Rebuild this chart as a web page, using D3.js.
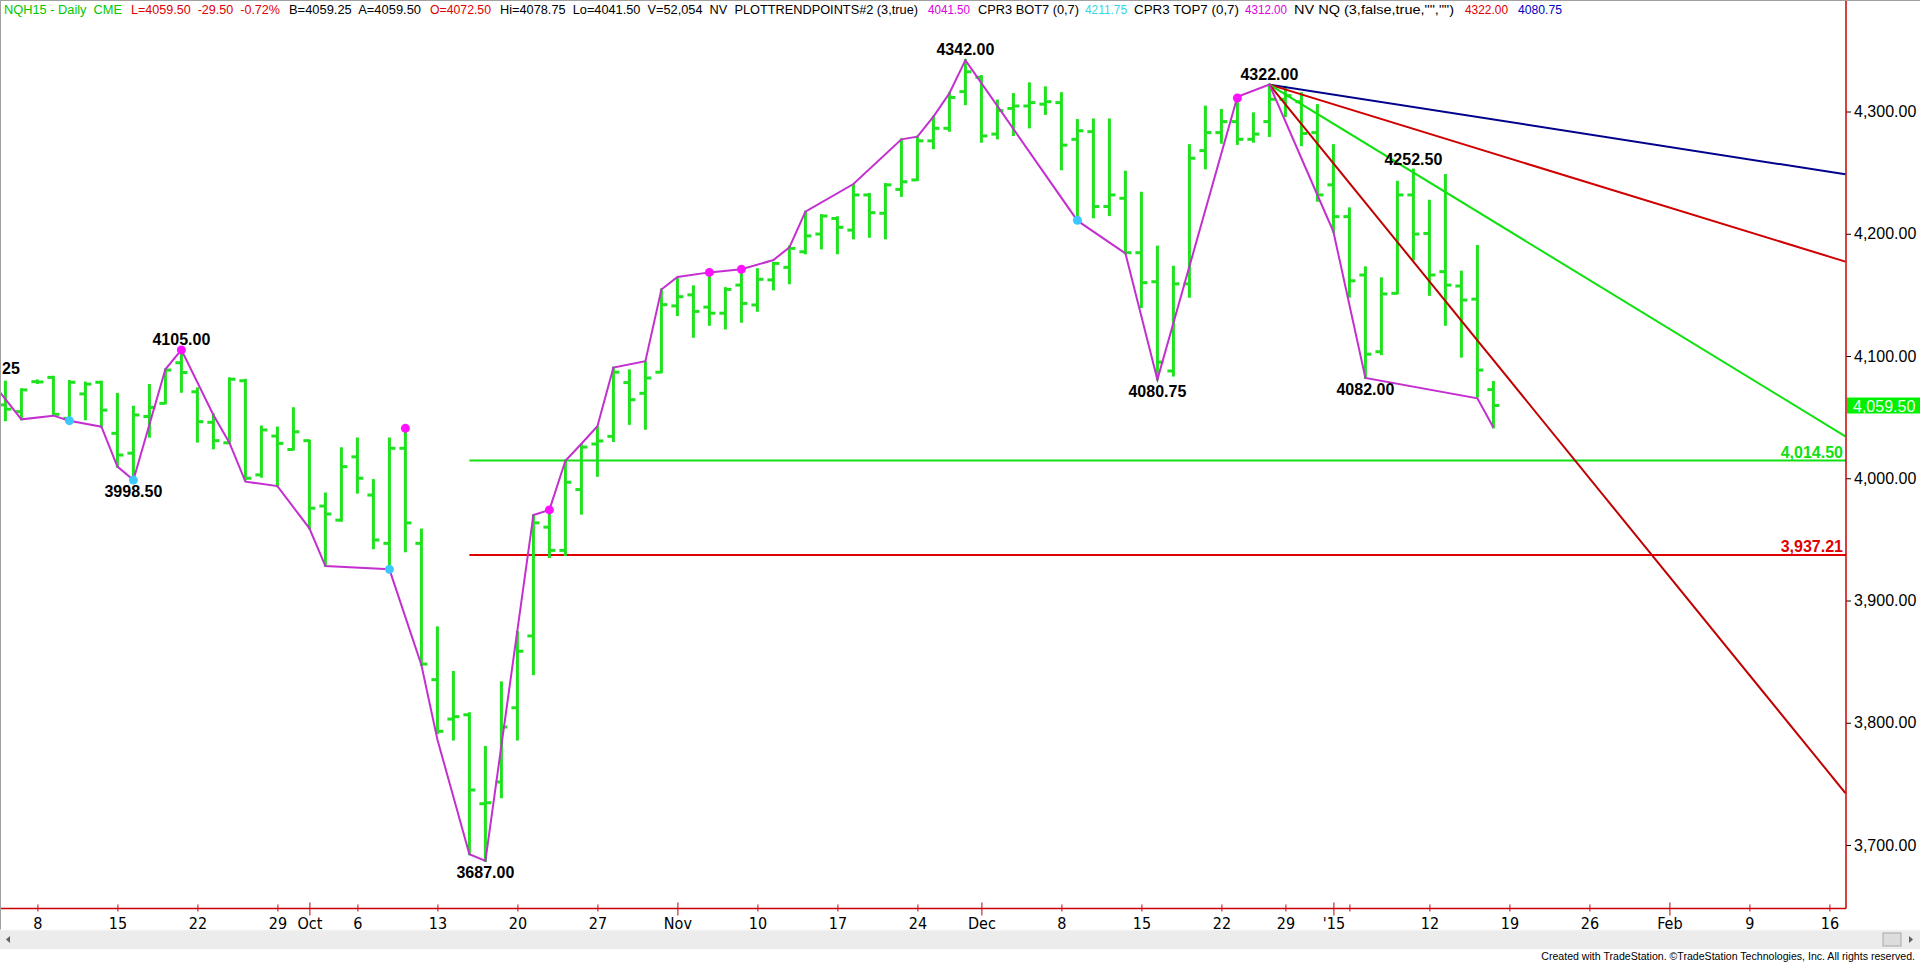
<!DOCTYPE html>
<html><head><meta charset="utf-8">
<script src="https://cdn.jsdelivr.net/npm/d3@7"></script>
<style>body{margin:0;background:#fff;overflow:hidden}svg{display:block}</style>
</head><body><svg id="c" width="1920" height="964"></svg>
<script>
// ---------- DATA ----------
const dates = ["2014-09-04","2014-09-05","2014-09-08","2014-09-09","2014-09-10","2014-09-11","2014-09-12","2014-09-15","2014-09-16","2014-09-17","2014-09-18","2014-09-19","2014-09-22","2014-09-23","2014-09-24","2014-09-25","2014-09-26","2014-09-29","2014-09-30",
"2014-10-01","2014-10-02","2014-10-03","2014-10-06","2014-10-07","2014-10-08","2014-10-09","2014-10-10","2014-10-13","2014-10-14","2014-10-15","2014-10-16","2014-10-17","2014-10-20","2014-10-21","2014-10-22","2014-10-23","2014-10-24","2014-10-27","2014-10-28","2014-10-29","2014-10-30","2014-10-31",
"2014-11-03","2014-11-04","2014-11-05","2014-11-06","2014-11-07","2014-11-10","2014-11-11","2014-11-12","2014-11-13","2014-11-14","2014-11-17","2014-11-18","2014-11-19","2014-11-20","2014-11-21","2014-11-24","2014-11-25","2014-11-26","2014-11-28",
"2014-12-01","2014-12-02","2014-12-03","2014-12-04","2014-12-05","2014-12-08","2014-12-09","2014-12-10","2014-12-11","2014-12-12","2014-12-15","2014-12-16","2014-12-17","2014-12-18","2014-12-19","2014-12-22","2014-12-23","2014-12-24","2014-12-26","2014-12-29","2014-12-30","2014-12-31",
"2015-01-02","2015-01-05","2015-01-06","2015-01-07","2015-01-08","2015-01-09","2015-01-12","2015-01-13","2015-01-14","2015-01-15","2015-01-16"];
const opens  = [4060,4054.5,4079,4082.5,4049,4069,4078.5,4036.75,4020.5,4050.5,4061.25,4094.5,4070.75,4045.75,4029,4079.75,4002.75,4034.5,4023.5,
4030.75,3977.25,3965.75,4017.5,3986.25,3946.75,4024.5,3946.75,3835.25,3803,3806.5,3733.75,3751.5,3812.25,3871,3960,3941,3990.75,4028,4034.25,4078.25,4069.5,4086.75,
4141,4150,4140,4135,4158,4141.75,4162.25,4172.5,4185.25,4199.75,4212.5,4203,4231.75,4216.75,4236.25,4244,4276,4286.25,4316.25,
4328,4281.5,4302.5,4304.5,4306,4307.25,4277.25,4283.5,4222.25,4229,4184.5,4160.75,4087.75,4159,4268,4282.75,4291.75,4277.25,4291.75,4310,4308,4282.75,
4240,4214,4166.25,4103.5,4151.25,4231.75,4200.25,4169,4157.25,4146.5,4072.5];
const highs  = [4079,4072.75,4080,4083,4079.5,4078.25,4079,4069,4058.5,4076.25,4089,4105,4073.5,4052.25,4081.75,4080.5,4042.25,4041.5,4057.25,
4030.75,3987.5,4024.5,4032.5,3998.5,4032.5,4038.5,3958,3878,3841.5,3807.75,3780.25,3833,3874.25,3969.75,3971,4014.5,4027.5,4042,4090.5,4088.25,4095,4154.5,
4163.5,4157,4166.25,4155.5,4167.5,4171,4176.25,4189.5,4218,4215.25,4213.5,4240,4232.5,4240.75,4277.25,4279.5,4295.75,4315,4342,
4329,4309,4314.25,4323,4319.75,4315,4293,4293.5,4293.5,4250.75,4233.5,4189.5,4173,4272.5,4304,4301.25,4312,4298.5,4322,4320.25,4315,4305.25,
4272.5,4220.75,4172.5,4163.5,4242.5,4252.5,4227,4248,4169,4190,4078.75];
const lows   = [4047.5,4048.25,4078,4051.75,4047,4048.25,4042.25,4009.5,3998.5,4034,4061.25,4070.75,4030,4024.5,4029,3999,4001.25,3993.5,4023.5,
3959,3928.25,3965.25,3988.25,3942.75,3925.5,3940.25,3847.25,3791.5,3786.25,3692.5,3687,3739,3786.25,3839.75,3935.5,3937.25,3971,4002,4030.5,4044.5,4040.5,4086.75,
4133.5,4115.75,4125.5,4122.5,4128,4137,4154.5,4159.5,4184,4188,4184,4196.25,4197.5,4196.25,4231,4244,4270,4284.25,4306,
4275.25,4278,4280.75,4287,4298,4252.75,4211.75,4213.5,4215.25,4184,4140,4080.75,4084,4148.5,4253.5,4274.5,4273.5,4275.25,4280,4296.25,4272.5,4227,
4201.75,4148.5,4082,4101.5,4151.25,4179,4150,4125.5,4099.5,4066.75,4041.5];
const closes = [4056.5,4072.25,4078.75,4052.25,4078.5,4077,4055.75,4019,4051.75,4058,4088.5,4086.5,4046.25,4030.75,4081,4000,4039.5,4028.5,4038,
3975.5,3970.75,4009.5,4000,3949.5,4024.5,3963.5,3848,3793,3805,3745,3734.5,3796.5,3858.5,3963.5,3941,3996.75,4025.5,4030.5,4086.75,4064.25,4082,4142,
4148.5,4136.5,4135,4154.5,4143,4162.75,4175.75,4188,4198.25,4214.5,4205.25,4231.75,4217.25,4240,4242.5,4276,4286.25,4311.5,4332.5,
4280,4300.75,4304.5,4307.25,4308,4272.5,4284.25,4222.25,4231.75,4184.5,4160,4095,4159,4261.75,4282.75,4291.75,4277.25,4281.5,4310,4313,4282,4231.75,
4214,4161.5,4101.5,4150.75,4231.75,4199.75,4166.25,4158,4145.75,4088.5,4059.5];

// swing-line (PLOTTRENDPOINTS) vertices: bar index, price
const swingIdx   = [-1,1,3,4,6,7,8,10,11,13,14,15,17,19,20,24,26,27,29,30,33,34,35,36,37,38,40,41,42,44,46,48,49,50,53,56,57,58,59,60,67,70,72,77,79,82,83,85,92,93];
const swingPrice = [4081.25,4048.2,4051.2,4047.1,4042.2,4009.5,3998.5,4089.1,4105,4051.7,4029.1,3997.2,3993.6,3959,3928.2,3925.5,3847.2,3786.3,3692.5,3687,3970,3974.1,4014.3,4028.2,4042.5,4090.6,4095.8,4154.4,4164.6,4168.4,4170.9,4178.5,4188.9,4218.1,4240.7,4277.2,4279.4,4295.8,4314.9,4342,4210.7,4184,4080.75,4312,4322,4231.7,4201.7,4082,4065.4,4041.5];
const topDotIdx   = [11,25,34,44,46,77];
const topDotPrice = [4105,4040.8,3974.1,4168.4,4170.9,4311];
const botDotIdx   = [4,8,24,67];
const botDotPrice = [4047.1,3998.5,3925.5,4211];

// labelled swing highs / lows
const highLabelIdx = [11,60,79,88];
const highLabelVal = [4105.00,4342.00,4322.00,4252.50];
const lowLabelIdx  = [8,30,72,85];
const lowLabelVal  = [3998.50,3687.00,4080.75,4082.00];
const edgeLabelText = "25";      // tail of a swing-high label cut by the left edge
const edgeLabelVal  = 4081.25;

// trend lines from the 4322.00 high (start idx/price -> end idx/price)
const trendNames  = ["blue","redUpper","green","redSteep"];
const trendStartI = 79, trendStartP = 4322;
const trendEndI   = 115;
const trendEndP   = [4248.6,4177.2,4034.3,3742.5];

// horizontal levels
const levelNames = ["green","red"];
const levelVals  = [4014.50,3937.21];
const levelStartIdx = 29;

// axes
const yTicks = [3700,3800,3900,4000,4100,4200,4300];
const xTickIdx    = [2,7,12,17,19,22,27,32,37,42,47,52,57,61,66,71,76,80,83,84,89,94,99,104,109,114];
const xTickLabels = ["8","15","22","29","Oct","6","13","20","27","Nov","10","17","24","Dec","8","15","22","29","'15","","12","19","26","Feb","9","16"];
const xTickMajor  = ["Oct","Nov","Dec","'15","Feb"];
const lastPrice = 4059.50;

// header
const headerParts = [
 ["NQH15 - Daily  CME","g"],["L=4059.50  -29.50  -0.72%","r"],["B=4059.25  A=4059.50","k"],["O=4072.50","r"],
 ["Hi=4078.75  Lo=4041.50  V=52,054  NV  PLOTTRENDPOINTS#2 (3,true)","k"],["4041.50","m"],["CPR3 BOT7 (0,7)","k"],
 ["4211.75","c"],["CPR3 TOP7 (0,7)","k"],["4312.00","m"],["NV NQ (3,false,true,\"\",\"\")","k"],["4322.00","r"],["4080.75","b"]];
const headerX = [4,131,289,430,500,928,978,1085,1134,1245,1294,1465,1518];
const headerW = [118,149,132,61,418,42,101,42,105,42,160,43,44];

// ---------- STYLE ----------
const C = {bar:"#1fe21f", swing:"#c42fd0", magenta:"#ff10ff", cyan:"#3cc8ff", axis:"#c80000",
  trend:{blue:"#00008c",redUpper:"#d00000",green:"#10e010",redSteep:"#c00000"},
  level:{green:"#10e010",red:"#e00000"},
  hdr:{g:"#00c800",r:"#e00000",k:"#000",m:"#e000e0",c:"#30d8e8",b:"#0000c0"}};
const FONT = "'Liberation Sans', Arial, sans-serif";
const NARROW = "'Liberation Sans Narrow','Arial Narrow','DejaVu Sans Condensed','Liberation Sans',sans-serif";

const svg = d3.select("#c");
const W = 1920, plotRight = 1846, axisY = 908.5;
const x = d3.scaleLinear().domain([0,114]).range([5.4,1829.4]);
const y = d3.scaleLinear().domain([3700,4300]).range([845,111.5]);

svg.append("rect").attr("width",W).attr("height",964).attr("fill","#fff");
svg.append("defs").append("clipPath").attr("id","pc").append("rect")
  .attr("x",1).attr("y",0).attr("width",plotRight-1).attr("height",axisY);

const plot = svg.append("g").attr("clip-path","url(#pc)");

// horizontal levels
levelVals.forEach((v,k)=>{
  plot.append("line").attr("x1",x(levelStartIdx)).attr("x2",plotRight).attr("y1",y(v)).attr("y2",y(v))
    .attr("stroke",C.level[levelNames[k]]).attr("stroke-width",2);
});

// bars
const bars = plot.append("g").attr("stroke",C.bar).attr("stroke-width",3);
dates.forEach((d,i)=>{
  const xi = x(i);
  bars.append("line").attr("x1",xi).attr("x2",xi).attr("y1",y(highs[i])-1).attr("y2",y(lows[i])+1);
  bars.append("line").attr("x1",xi-6).attr("x2",xi).attr("y1",y(opens[i])).attr("y2",y(opens[i]));
  bars.append("line").attr("x1",xi).attr("x2",xi+6).attr("y1",y(closes[i])).attr("y2",y(closes[i]));
});

// trend lines
trendNames.forEach((n,k)=>{
  plot.append("line").attr("x1",x(trendStartI)).attr("y1",y(trendStartP))
    .attr("x2",x(trendEndI)).attr("y2",y(trendEndP[k]))
    .attr("stroke",C.trend[n]).attr("stroke-width",2);
});

// swing line
const line = d3.line().x(d=>x(d[0])).y(d=>y(d[1]));
plot.append("path").datum(swingIdx.map((v,k)=>[v,swingPrice[k]]))
  .attr("d",line).attr("fill","none").attr("stroke",C.swing).attr("stroke-width",2);

// dots
topDotIdx.forEach((v,k)=>plot.append("circle").attr("cx",x(v)).attr("cy",y(topDotPrice[k])).attr("r",4.5).attr("fill",C.magenta));
botDotIdx.forEach((v,k)=>plot.append("circle").attr("cx",x(v)).attr("cy",y(botDotPrice[k])).attr("r",4.5).attr("fill",C.cyan));

// swing labels
const f2 = d3.format(".2f");
highLabelIdx.forEach((v,k)=>plot.append("text").attr("x",x(v)).attr("y",y(highLabelVal[k])-5)
  .attr("text-anchor","middle").attr("font-family",FONT).attr("font-weight","bold").attr("font-size",16)
  .attr("fill","#000").text(f2(highLabelVal[k])));
lowLabelIdx.forEach((v,k)=>plot.append("text").attr("x",x(v)).attr("y",y(lowLabelVal[k])+17)
  .attr("text-anchor","middle").attr("font-family",FONT).attr("font-weight","bold").attr("font-size",16)
  .attr("fill","#000").text(f2(lowLabelVal[k])));
plot.append("text").attr("x",2).attr("y",y(edgeLabelVal)-5).attr("font-family",FONT).attr("font-weight","bold")
  .attr("font-size",16).attr("fill","#000").text(edgeLabelText);

// level labels
const fc = d3.format(",.2f");
levelVals.forEach((v,k)=>plot.append("text").attr("x",plotRight-3).attr("y",y(v)-3)
  .attr("text-anchor","end").attr("font-family",FONT).attr("font-weight","bold").attr("font-size",16)
  .attr("fill",C.level[levelNames[k]]).text(fc(v)));

// ---------- AXES ----------
const yAxis = svg.append("g").attr("transform",`translate(${plotRight},0)`)
  .call(d3.axisRight(y).tickValues(yTicks).tickSize(5).tickPadding(3).tickFormat(fc));
yAxis.select(".domain").remove();
yAxis.selectAll(".tick line").attr("stroke","#000");
yAxis.selectAll(".tick text").attr("font-family",FONT).attr("font-size",16).attr("fill","#000");

const xAxis = svg.append("g").attr("transform",`translate(0,${axisY})`)
  .call(d3.axisBottom(x).tickValues(xTickIdx).tickSize(0).tickPadding(0).tickFormat((d,i)=>xTickLabels[i]));
xAxis.select(".domain").remove();
xAxis.selectAll(".tick line").attr("stroke",C.axis)
  .attr("y1",(d,i)=>xTickMajor.includes(xTickLabels[i])?-6:-4)
  .attr("y2",(d,i)=>xTickMajor.includes(xTickLabels[i])?7:3).attr("stroke-width",1);
xAxis.selectAll(".tick text").attr("y",20).attr("dy",0).attr("font-family",NARROW).attr("font-size",16).attr("fill","#000");

svg.append("line").attr("x1",0).attr("x2",plotRight).attr("y1",axisY).attr("y2",axisY).attr("stroke",C.axis).attr("stroke-width",1.5);
svg.append("line").attr("x1",plotRight).attr("x2",plotRight).attr("y1",0).attr("y2",axisY).attr("stroke",C.axis).attr("stroke-width",1.5);

// last price box
svg.append("rect").attr("x",plotRight+1).attr("y",y(lastPrice)-8).attr("width",W-plotRight-1).attr("height",16).attr("fill","#00f000");
svg.append("text").attr("x",plotRight+7).attr("y",y(lastPrice)+6).attr("font-family",FONT).attr("font-size",16)
  .attr("fill","#f0fff0").text(fc(lastPrice));

// header
const hdr = svg.append("g").attr("font-family",FONT).attr("font-size",12.5);
headerParts.forEach((p,k)=>hdr.append("text").attr("x",headerX[k]).attr("y",14).attr("fill",C.hdr[p[1]])
  .attr("textLength",headerW[k]).attr("lengthAdjust","spacingAndGlyphs")
  .attr("xml:space","preserve").style("white-space","pre").text(p[0]));

// frame
svg.append("line").attr("x1",0).attr("x2",W).attr("y1",0.5).attr("y2",0.5).attr("stroke","#a0a0a0");
svg.append("line").attr("x1",0.5).attr("x2",0.5).attr("y1",0).attr("y2",930).attr("stroke","#a0a0a0");

// scrollbar
svg.append("rect").attr("x",0).attr("y",930).attr("width",W).attr("height",19).attr("fill","#ececec");
svg.append("line").attr("x1",0).attr("x2",W).attr("y1",930).attr("y2",930).attr("stroke","#f8f8f8");
svg.append("path").attr("d","M10,936 L6,939.5 L10,943 Z").attr("fill","#606060");
svg.append("rect").attr("x",1883).attr("y",933).attr("width",18).attr("height",13).attr("fill","#dcdcdc").attr("stroke","#a8a8a8");
svg.append("path").attr("d","M1909,936 L1913,939.5 L1909,943 Z").attr("fill","#606060");

// credit line, squeezed to the reference width
const credit = svg.append("text").attr("text-anchor","end").attr("font-family",FONT).attr("font-size",11.5).attr("fill","#000")
  .text("Created with TradeStation. \u00A9TradeStation Technologies, Inc. All rights reserved.");
const cw = credit.node().getComputedTextLength();
credit.attr("transform",`translate(1915,960) scale(${(374/cw).toFixed(3)},1)`);
</script></body></html>
